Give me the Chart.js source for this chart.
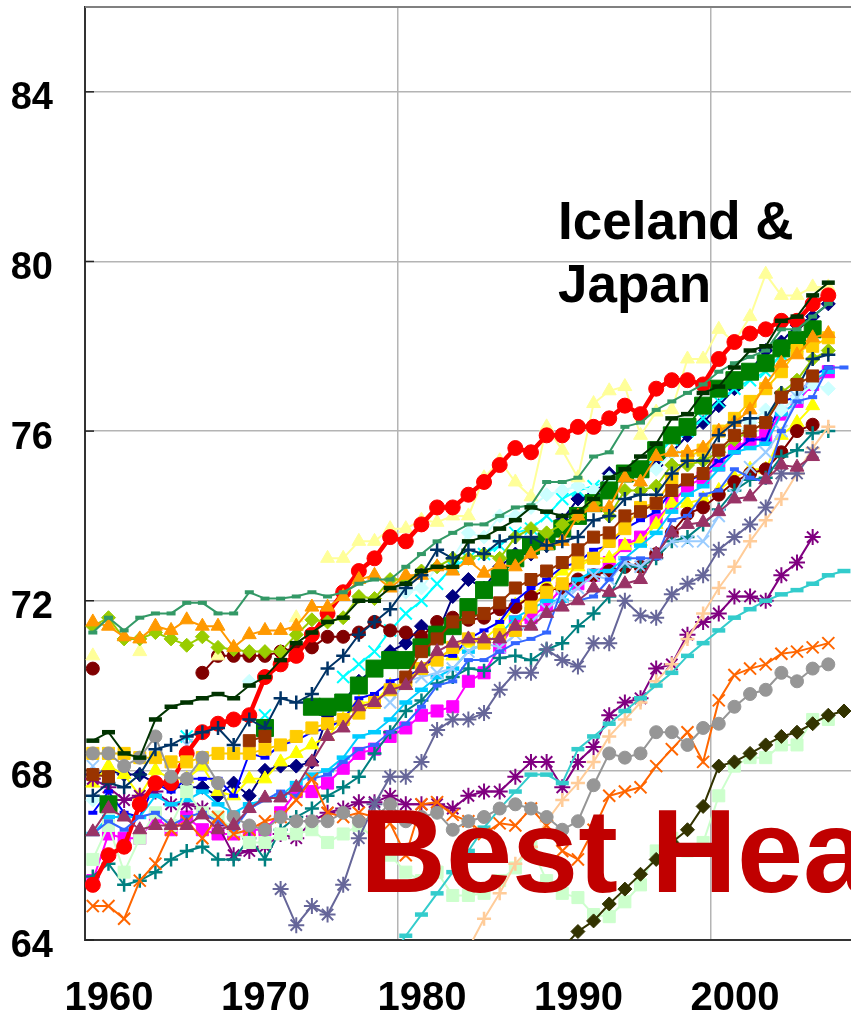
<!DOCTYPE html>
<html>
<head>
<meta charset="utf-8">
<script src="https://cdn.jsdelivr.net/npm/chart.js@4.4.1/dist/chart.umd.min.js"></script>
<style>
  html, body { margin: 0; padding: 0; background: #fff; }
  #chart { display: block; }
</style>
</head>
<body>
<canvas id="chart" width="851" height="1017"></canvas>
<script>
// Male life expectancy at birth, OECD countries, 1960-2008

const years = [
  1960, 1961, 1962, 1963, 1964, 1965, 1966, 1967, 1968, 1969,
  1970, 1971, 1972, 1973, 1974, 1975, 1976, 1977, 1978, 1979,
  1980, 1981, 1982, 1983, 1984, 1985, 1986, 1987, 1988, 1989,
  1990, 1991, 1992, 1993, 1994, 1995, 1996, 1997, 1998, 1999,
  2000, 2001, 2002, 2003, 2004, 2005, 2006, 2007, 2008
];
const yTicks = [64, 68, 72, 76, 80, 84];
const xTickYears = [1960, 1970, 1980, 1990, 2000];

const australia = [
  67.9, 68.0, 67.9, 67.9, 67.7, 67.6, 67.6, 67.6, 67.4, 67.7,
  67.4, 68.0, 68.1, 68.1, 68.2, 69.3, 69.6, 70.1, 70.4, 70.8,
  71.0, 71.4, 71.2, 72.1, 72.5, 72.3, 72.8, 73.1, 73.1, 73.3,
  73.9, 74.4, 74.5, 75.0, 75.0, 75.0, 75.2, 75.5, 75.9, 76.2,
  76.6, 77.0, 77.4, 77.9, 78.1, 78.5, 78.7, 79.0, null];
const austria = [
  65.4, 66.5, 66.4, 66.4, 66.9, 66.6, 66.9, 66.6, 66.5, 66.5,
  66.6, 66.6, 67.0, 67.5, 67.5, 67.7, 68.05, 68.4, 68.5, 68.8,
  69.0, 69.3, 69.4, 69.5, 70.1, 70.3, 70.9, 71.5, 71.6, 71.9,
  72.3, 72.4, 72.6, 72.9, 73.3, 73.5, 73.9, 74.3, 74.7, 74.9,
  75.2, 75.6, 75.8, 75.9, 76.4, 76.7, 77.1, 77.4, null];
const belgium = [
  67.7, 68.1, 67.9, 67.4, 68.0, 67.8, 67.8, 68.1, 67.5, 67.4,
  67.8, 67.8, 68.2, 68.4, 68.6, 68.8, 69.2, 69.6, 69.6, 70.0,
  70.0, 70.4, 70.7, 70.7, 71.0, 71.1, 71.4, 71.9, 72.1, 72.4,
  72.7, 72.8, 73.0, 73.0, 73.3, 73.4, 73.8, 74.3, 74.3, 74.4,
  74.6, 74.9, 75.1, 75.1, 75.9, 76.2, 76.6, null, null];
const canada = [
  null, 68.4, null, null, null, null, 68.8, null, null, null,
  null, 69.3, null, null, null, null, 70.2, 70.5, 70.8, 71.3,
  71.7, 72.0, 72.4, 72.8, 73.0, 73.1, 73.3, 73.6, 73.7, 74.0,
  74.4, 74.6, 74.7, 74.8, 75.0, 75.1, 75.4, 75.8, 76.0, 76.3,
  76.7, 77.0, 77.2, 77.4, 77.8, 78.0, null, null, null];
const czech = [
  67.8, 67.6, 67.3, 67.4, 67.5, 67.2, 67.2, 67.1, 66.7, 66.0,
  66.1, 66.2, 66.5, 66.4, 66.8, 67.0, 67.1, 67.25, 67.25, 67.4,
  67.2, 67.2, 67.2, 67.1, 67.4, 67.5, 67.5, 67.85, 68.2, 68.2,
  67.6, 68.2, 68.55, 69.3, 69.6, 69.7, 70.4, 70.5, 71.2, 71.5,
  71.7, 72.1, 72.1, 72.0, 72.6, 72.9, 73.5, null, null];
const denmark = [
  70.4, null, null, null, null, null, null, 70.3, 70.7, 70.7,
  70.7, 70.7, 70.8, 70.9, 70.9, 71.15, 71.15, 71.25, 71.5, 71.3,
  71.25, 71.15, 71.5, 71.6, 71.55, 71.6, 71.8, 71.85, 72.1, 72.25,
  72.3, 72.5, 72.6, 72.7, 72.8, 72.8, 73.1, 73.6, 74.05, 74.2,
  74.5, 74.8, 75.0, 75.1, 75.5, 76.0, 76.15, null, null];
const finland = [
  65.5, 65.8, 65.3, 65.4, 65.6, 65.9, 66.1, 66.2, 65.9, 65.9,
  66.4, 65.9, 66.6, 66.9, 67.1, 67.4, 67.6, 67.85, 68.4, 68.9,
  69.4, 69.65, 70.05, 70.2, 70.4, 70.35, 70.65, 70.7, 70.6, 70.85,
  71.0, 71.4, 71.7, 72.1, 72.8, 72.8, 73.0, 73.4, 73.5, 73.8,
  74.15, 74.6, 74.85, 74.9, 75.4, 75.55, 75.95, 76.0, null];
const france = [
  67.0, 67.5, 67.0, 66.9, 67.7, 67.5, 67.8, 67.8, 67.8, 67.4,
  68.4, 68.3, 68.6, 68.7, 68.9, 69.0, 69.2, 69.7, 69.8, 70.1,
  70.2, 70.4, 70.7, 70.7, 71.1, 71.3, 71.5, 72.0, 72.3, 72.5,
  72.8, 72.9, 73.2, 73.3, 73.7, 73.9, 74.1, 74.6, 74.8, 75.0,
  75.3, 75.5, 75.8, 75.8, 76.7, 76.8, 77.3, 77.5, null];
const germany = [
  66.5, 66.9, 66.9, 66.9, 67.4, 67.2, 67.3, 67.5, 67.2, 67.0,
  67.2, 67.3, 67.4, 67.7, 67.9, 68.0, 68.3, 68.8, 68.9, 69.2,
  69.6, 69.9, 70.2, 70.4, 70.8, 71.0, 71.2, 71.6, 71.8, 72.0,
  72.0, 72.5, 72.7, 72.7, 73.0, 73.3, 73.6, 74.1, 74.5, 74.7,
  75.1, 75.5, 75.6, 75.7, 76.4, 76.7, 77.2, 77.4, null];
const greece = [
  67.3, null, null, null, null, null, null, null, null, null,
  70.1, null, null, null, null, null, null, null, null, null,
  72.2, 72.3, 72.8, 73.0, 73.6, 73.5, 74.0, 74.0, 74.2, 74.5,
  74.6, 74.7, 74.6, 74.9, 75.0, 75.0, 75.1, 75.5, 75.4, 75.5,
  75.5, 75.9, 76.2, 76.5, 76.5, 76.8, 77.1, 77.0, null];
const hungary = [
  65.9, 66.7, 65.6, 66.4, 67.0, 66.7, 67.5, 67.0, 66.9, 66.6,
  66.3, 66.3, 66.5, 66.5, 66.6, 66.3, 66.5, 66.7, 66.4, 66.0,
  65.6, 65.4, 65.6, 65.05, 65.05, 65.1, 65.4, 65.7, 66.2, 65.4,
  65.1, 65.0, 64.6, 64.55, 64.9, 65.3, 66.1, 66.4, 66.1, 66.3,
  67.4, 68.1, 68.3, 68.3, 68.6, 68.6, 69.2, 69.2, null];
const iceland = [
  70.7, null, null, 70.8, null, null, null, null, 70.7, null,
  null, null, null, 71.6, null, 73.0, 73.0, 73.4, 73.4, 73.7,
  73.7, 73.9, 73.85, 74.0, 74.0, 74.9, 75.3, 74.8, 74.45, 76.1,
  75.55, 74.9, 76.65, 76.95, 77.05, 75.9, 76.45, 76.5, 77.7, 77.7,
  78.4, 78.1, 78.7, 79.7, 79.2, 79.2, 79.4, 79.4, null];
const ireland = [
  68.1, null, null, null, null, null, 68.6, null, null, null,
  null, 68.8, null, null, null, null, null, null, null, 69.6,
  70.1, 70.2, 70.3, 70.4, 70.8, 71.0, 70.9, 71.2, 71.5, 71.8,
  72.1, 72.3, 72.6, 72.5, 72.9, 72.8, 73.1, 73.4, 73.4, 73.4,
  74.0, 74.5, 75.15, 75.5, 76.0, 76.8, 77.3, null, null];
const italy = [
  null, 67.2, null, null, null, null, null, null, null, null,
  null, 69.0, null, null, 69.5, 69.5, 69.6, 70.0, 70.4, 70.6,
  70.6, 70.9, 71.2, 71.4, 71.85, 72.25, 72.55, 73.0, 73.3, 73.4,
  73.7, 74.0, 74.3, 74.6, 75.0, 75.1, 75.55, 75.9, 76.1, 76.6,
  77.0, 77.2, 77.4, 77.6, 77.95, 78.15, 78.4, null, null];
const japan = [
  65.3, 66.0, 66.2, 67.2, 67.7, 67.7, 68.4, 68.9, 69.1, 69.2,
  69.3, 70.2, 70.5, 70.7, 71.2, 71.7, 72.2, 72.7, 73.0, 73.5,
  73.4, 73.8, 74.2, 74.2, 74.5, 74.8, 75.2, 75.6, 75.5, 75.9,
  75.9, 76.1, 76.1, 76.3, 76.6, 76.4, 77.0, 77.2, 77.2, 77.1,
  77.7, 78.1, 78.3, 78.4, 78.6, 78.6, 79.0, 79.2, null];
const korea = [
  null, null, null, null, null, null, null, null, null, null,
  null, null, null, null, null, null, null, null, null, null,
  null, null, null, 63.2, 63.8, 64.5, 65.1, 65.8, 66.2, 66.8,
  67.3, 67.7, 68.2, 68.8, 69.2, 69.6, 70.1, 70.5, 71.1, 71.7,
  72.3, 72.8, 73.4, 73.9, 74.4, 75.0, 75.6, 76.1, null];
const luxembourg = [
  66.5, 66.8, 66.6, 66.9, 67.0, 66.7, 66.9, 67.0, 66.8, 66.6,
  67.1, 67.3, 67.5, 67.4, 67.8, 67.9, 68.2, 68.5, 68.6, 68.9,
  69.1, 69.5, 70.0, 70.1, 70.6, 70.6, 70.8, 71.0, 71.1, 71.25,
  72.3, 72.0, 72.1, 72.5, 73.0, 73.0, 73.0, 73.9, 74.0, 74.5,
  74.6, 75.1, 74.9, 74.8, 76.0, 76.7, 76.8, 77.5, 77.5];
const mexico = [
  null, null, null, null, null, null, null, null, null, null,
  null, null, null, null, null, null, null, null, null, 63.6,
  64.1, 64.6, 65.1, 65.6, 66.1, 66.65, 67.1, 67.5, 67.9, 67.9,
  67.7, 68.5, 68.8, 69.1, 69.4, 69.7, 70.0, 70.3, 70.7, 71.0,
  71.3, 71.6, 71.8, 72.0, 72.15, 72.25, 72.4, 72.6, 72.7];
const netherlands = [
  71.4, 71.6, 71.1, 71.1, 71.25, 71.1, 70.95, 71.15, 70.9, 70.85,
  70.8, 70.8, 70.8, 71.2, 71.55, 71.5, 71.6, 72.1, 72.05, 72.5,
  72.5, 72.7, 72.8, 73.0, 73.0, 73.1, 73.0, 73.5, 73.7, 73.6,
  73.8, 74.0, 74.3, 74.0, 74.6, 74.6, 74.7, 75.2, 75.2, 75.3,
  75.5, 75.8, 76.0, 76.2, 76.9, 77.2, 77.7, 77.9, null];
const newZealand = [
  68.4, 68.4, 68.4, 68.3, 68.3, 68.2, 68.2, 68.3, 68.4, 68.4,
  68.4, 68.5, 68.6, 68.8, 69.0, 69.1, 69.2, 69.35, 69.6, 69.9,
  70.1, 70.4, 70.6, 70.9, 71.1, 71.0, 71.2, 71.3, 71.85, 72.2,
  72.4, 72.9, 73.0, 73.4, 73.7, 74.2, 74.3, 74.85, 75.4, 75.55,
  76.0, 76.3, 76.7, 77.0, 77.4, 77.9, 78.0, 78.2, null];
const norway = [
  71.5, 71.4, 71.15, 71.1, 71.4, 71.3, 71.55, 71.4, 71.4, 70.9,
  71.2, 71.3, 71.3, 71.4, 71.85, 71.85, 72.1, 72.5, 72.6, 72.3,
  72.6, 72.6, 72.8, 72.7, 72.95, 72.65, 72.85, 72.8, 73.1, 73.3,
  73.4, 74.0, 74.2, 74.2, 74.9, 74.8, 75.4, 75.5, 75.5, 75.6,
  76.0, 76.2, 76.5, 77.1, 77.6, 77.8, 78.2, 78.3, null];
const poland = [
  64.8, 64.8, 64.5, 65.4, 65.8, 66.6, 66.8, 66.4, 66.9, 66.5,
  66.6, 66.8, 66.9, 67.3, 67.8, 67.0, 66.9, 67.0, 66.9, 66.75,
  66.0, 67.2, 67.25, 66.95, 66.8, 66.5, 66.75, 66.7, 67.1, 66.7,
  66.1, 65.9, 66.6, 67.4, 67.5, 67.6, 68.1, 68.5, 68.9, 68.2,
  69.65, 70.25, 70.4, 70.5, 70.75, 70.8, 70.9, 71.0, null];
const portugal = [
  null, null, null, null, null, null, null, null, null, null,
  null, null, 65.2, 64.35, 64.8, 64.6, 65.3, 66.4, 67.2, 67.85,
  67.85, 68.2, 68.95, 69.2, 69.2, 69.35, 69.9, 70.3, 70.3, 70.85,
  70.6, 70.45, 71.0, 71.0, 72.0, 71.65, 71.6, 72.15, 72.4, 72.6,
  73.2, 73.5, 73.8, 74.2, 75.0, 75.0, 75.5, null, null];
const slovakia = [
  68.4, 68.4, 68.1, 68.3, 68.8, 67.85, 67.8, 68.3, 67.7, 66.9,
  66.7, 66.6, 66.9, 66.8, 66.8, 66.8, 67.0, 66.8, 66.9, 67.2,
  66.8, 66.9, 67.0, 66.6, 66.8, 66.9, 67.1, 67.2, 67.1, 66.9,
  66.6, 66.8, 67.65, 68.4, 68.3, 68.4, 68.9, 68.9, 68.6, 69.0,
  69.1, 69.5, 69.8, 69.9, 70.3, 70.1, 70.4, 70.5, null];
const spain = [
  67.4, 67.7, 67.6, 67.9, 68.5, 68.6, 68.8, 68.9, 69.0, 68.6,
  69.2, 69.0, 69.7, 69.6, 69.8, 70.4, 70.7, 71.2, 71.5, 71.8,
  72.3, 72.6, 73.2, 73.0, 73.2, 73.1, 73.4, 73.5, 73.5, 73.3,
  73.4, 73.5, 73.9, 74.0, 74.4, 74.5, 74.5, 75.0, 75.3, 75.3,
  75.9, 76.2, 76.3, 76.3, 76.9, 77.0, 77.7, 77.8, null];
const sweden = [
  71.25, 71.6, 71.3, 71.6, 71.7, 71.7, 71.95, 71.95, 71.7, 71.7,
  72.2, 72.05, 72.05, 72.1, 72.2, 72.1, 72.2, 72.4, 72.5, 72.5,
  72.8, 73.1, 73.4, 73.6, 73.8, 73.8, 74.0, 74.2, 74.25, 74.8,
  74.8, 74.9, 75.4, 75.5, 76.1, 76.2, 76.5, 76.7, 76.9, 77.1,
  77.4, 77.6, 77.75, 77.9, 78.4, 78.4, 78.7, 79.0, null];
const switzerland = [
  68.7, 68.9, 68.4, 68.3, 69.2, 69.5, 69.6, 69.7, 69.8, 69.7,
  70.0, 70.2, 70.6, 71.0, 71.25, 71.5, 71.6, 72.0, 72.0, 72.3,
  72.4, 72.7, 72.8, 72.8, 73.4, 73.5, 73.7, 73.9, 74.2, 74.1,
  74.0, 74.1, 74.4, 74.9, 75.1, 75.4, 75.7, 76.3, 76.4, 76.9,
  77.05, 77.5, 77.9, 78.0, 78.6, 78.7, 79.2, 79.5, null];
const turkey = [
  null, null, null, null, null, null, null, null, null, null,
  null, null, null, null, null, null, null, null, null, null,
  null, null, null, null, null, null, null, null, null, null,
  63.8, 64.2, 64.45, 64.85, 65.2, 65.55, 65.9, 66.3, 66.6, 67.15,
  68.1, 68.2, 68.4, 68.6, 68.8, 68.9, 69.1, 69.3, 69.4];
const unitedKingdom = [
  67.9, 67.85, null, null, null, null, null, null, null, null,
  68.7, 68.8, null, null, null, null, null, null, null, null,
  70.2, 70.8, 71.1, 71.5, 71.6, 71.7, 71.95, 72.3, 72.5, 72.7,
  72.9, 73.2, 73.5, 73.6, 74.0, 74.1, 74.3, 74.6, 74.85, 75.0,
  75.55, 75.9, 76.0, 76.2, 76.8, 77.1, 77.3, null, null];
const unitedStates = [
  66.55, 67.1, 66.9, 66.6, 66.7, 66.7, 66.7, 66.95, 66.6, 66.7,
  67.1, 67.35, 67.35, 67.6, 68.2, 68.8, 69.0, 69.5, 69.6, 69.9,
  70.0, 70.4, 70.8, 71.0, 71.1, 71.1, 71.1, 71.4, 71.4, 71.7,
  71.85, 72.0, 72.3, 72.2, 72.4, 72.5, 73.1, 73.6, 73.8, 73.85,
  74.1, 74.4, 74.45, 74.85, 75.2, 75.15, 75.4, null, null];

const countries = [
  'Australia', 'Austria', 'Belgium', 'Canada', 'Czech Republic', 'Denmark',
  'Finland', 'France', 'Germany', 'Greece', 'Hungary', 'Iceland', 'Ireland',
  'Italy', 'Japan', 'Korea', 'Luxembourg', 'Mexico', 'Netherlands',
  'New Zealand', 'Norway', 'Poland', 'Portugal', 'Slovak Republic', 'Spain',
  'Sweden', 'Switzerland', 'Turkey', 'United Kingdom', 'United States'
];
const countryValues = [
  australia, austria, belgium, canada, czech, denmark, finland, france,
  germany, greece, hungary, iceland, ireland, italy, japan, korea,
  luxembourg, mexico, netherlands, newZealand, norway, poland, portugal,
  slovakia, spain, sweden, switzerland, turkey, unitedKingdom, unitedStates
];
const countryColors = [
  '#000080', '#FF00FF', '#FFFF00', '#00FFFF', '#800080', '#800000',
  '#008080', '#0000FF', '#00CCFF', '#CCFFFF', '#CCFFCC', '#FFFF99', '#99CCFF',
  '#008000', '#FF0000', '#FFCC99', '#3366FF', '#33CCCC', '#99CC00',
  '#FFCC00', '#FF9900', '#FF6600', '#666699', '#969696', '#003366',
  '#339966', '#003300', '#333300', '#993300', '#993366'
];
const countryMarkers = [
  'diamond', 'square', 'triangle', 'x', 'star', 'circle', 'plus', 'sdash',
  'ldash', 'diamond', 'square', 'triangle', 'x', 'bigsquare', 'bigcircle',
  'plus', 'sdash', 'ldash', 'diamond', 'square', 'triangle', 'x', 'star',
  'circle', 'plus', 'sdash', 'ldash', 'diamond', 'square', 'triangle'
];

// marker look, roughly like the old Excel markers
const markerStyle = {
  diamond:   { pointStyle: 'rectRot',  radius: 7,   fill: true,  bw: 1 },
  square:    { pointStyle: 'rect',     radius: 8.5, fill: true,  bw: 1 },
  bigsquare: { pointStyle: 'rect',     radius: 12,  fill: true,  bw: 1 },
  triangle:  { pointStyle: 'triangle', radius: 8,   fill: true,  bw: 1 },
  x:         { pointStyle: 'crossRot', radius: 8.5, fill: false, bw: 2 },
  star:      { pointStyle: 'star',     radius: 8,   fill: false, bw: 2 },
  circle:    { pointStyle: 'circle',   radius: 6.5, fill: true,  bw: 1 },
  bigcircle: { pointStyle: 'circle',   radius: 7.5, fill: true,  bw: 1 },
  plus:      { pointStyle: 'cross',    radius: 7,   fill: false, bw: 2.5 },
  sdash:     { pointStyle: 'line',     radius: 4.5, fill: false, bw: 4 },
  ldash:     { pointStyle: 'line',     radius: 6.5, fill: false, bw: 4.5 }
};

const datasets = countries.map((name, i) => {
  const m = markerStyle[countryMarkers[i]];
  const color = countryColors[i];
  return {
    label: name,
    data: countryValues[i].map((v, k) => ({ x: years[k], y: v })),
    borderColor: color,
    backgroundColor: color,
    borderWidth: name === 'Japan' ? 4.5 : 2,
    pointStyle: m.pointStyle,
    pointRadius: m.radius,
    pointBackgroundColor: m.fill ? color : 'rgba(0,0,0,0)',
    pointBorderColor: color,
    pointBorderWidth: m.bw,
    spanGaps: false,
    tension: 0,
    order: countries.length - i
  };
});

const overlay = {
  id: 'overlay',
  beforeDatasetsDraw(chart) {
    const { ctx, chartArea: a, scales: { y } } = chart;
    ctx.save();
    ctx.strokeStyle = '#808080';
    ctx.lineWidth = 2;
    ctx.beginPath();
    ctx.moveTo(a.left, a.top);
    ctx.lineTo(a.right, a.top);
    ctx.stroke();
    ctx.strokeStyle = '#222';
    ctx.lineWidth = 1.5;
    yTicks.forEach(v => {
      const py = y.getPixelForValue(v);
      ctx.beginPath();
      ctx.moveTo(a.left, py);
      ctx.lineTo(a.left + 9, py);
      ctx.stroke();
    });
    ctx.restore();
  },
  afterDatasetsDraw(chart) {
    const ctx = chart.ctx;
    ctx.save();
    ctx.textAlign = 'left';
    ctx.textBaseline = 'alphabetic';
    ctx.fillStyle = '#000';
    ctx.font = 'bold 53px "Liberation Sans", Arial, sans-serif';
    ctx.fillText('Iceland &', 558, 239);
    ctx.fillText('Japan', 558, 302);
    ctx.fillStyle = '#C00000';
    ctx.font = 'bold 119px "Liberation Sans", Arial, sans-serif';
    ctx.fillText('Best Health', 360, 892);
    ctx.restore();
  }
};

new Chart(document.getElementById('chart').getContext('2d'), {
  type: 'line',
  data: { datasets },
  plugins: [overlay],
  options: {
    responsive: false,
    animation: false,
    devicePixelRatio: 1,
    layout: { autoPadding: false, padding: { top: 7, right: 0, bottom: 0, left: 0 } },
    plugins: {
      legend: { display: false },
      tooltip: { enabled: false }
    },
    scales: {
      x: {
        type: 'linear',
        min: 1959.5,
        max: 2008.45,
        afterBuildTicks: s => { s.ticks = xTickYears.map(v => ({ value: v - 0.5 })); },
        afterFit: s => {
          s.height = 77;
          s.paddingLeft = 0; s.paddingRight = 0; s.paddingTop = 0; s.paddingBottom = 0;
        },
        grid: {
          drawTicks: false,
          lineWidth: 1.5,
          color: c => (c.tick && (c.tick.value === 1979.5 || c.tick.value === 1999.5)) ? '#b4b4b4' : 'rgba(0,0,0,0)'
        },
        border: { color: '#333', width: 2 },
        ticks: {
          autoSkip: false,
          maxRotation: 0,
          padding: 35,
          labelOffset: 24,
          color: '#000',
          font: { family: '"Liberation Sans", Arial, sans-serif', size: 40, weight: 'bold' },
          callback: v => String(Math.round(v + 0.5))
        }
      },
      y: {
        min: 64,
        max: 86,
        afterBuildTicks: s => { s.ticks = yTicks.map(v => ({ value: v })); },
        afterFit: s => {
          s.width = 85;
          s.paddingLeft = 0; s.paddingRight = 0; s.paddingTop = 0; s.paddingBottom = 0;
        },
        grid: {
          drawTicks: false,
          lineWidth: 1.5,
          color: c => (c.tick && c.tick.value === 64) ? 'rgba(0,0,0,0)' : '#b4b4b4'
        },
        border: { color: '#333', width: 2 },
        ticks: {
          padding: 32,
          labelOffset: 7,
          color: '#000',
          font: { family: '"Liberation Sans", Arial, sans-serif', size: 38, weight: 'bold' }
        }
      }
    }
  }
});
</script>
</body>
</html>
